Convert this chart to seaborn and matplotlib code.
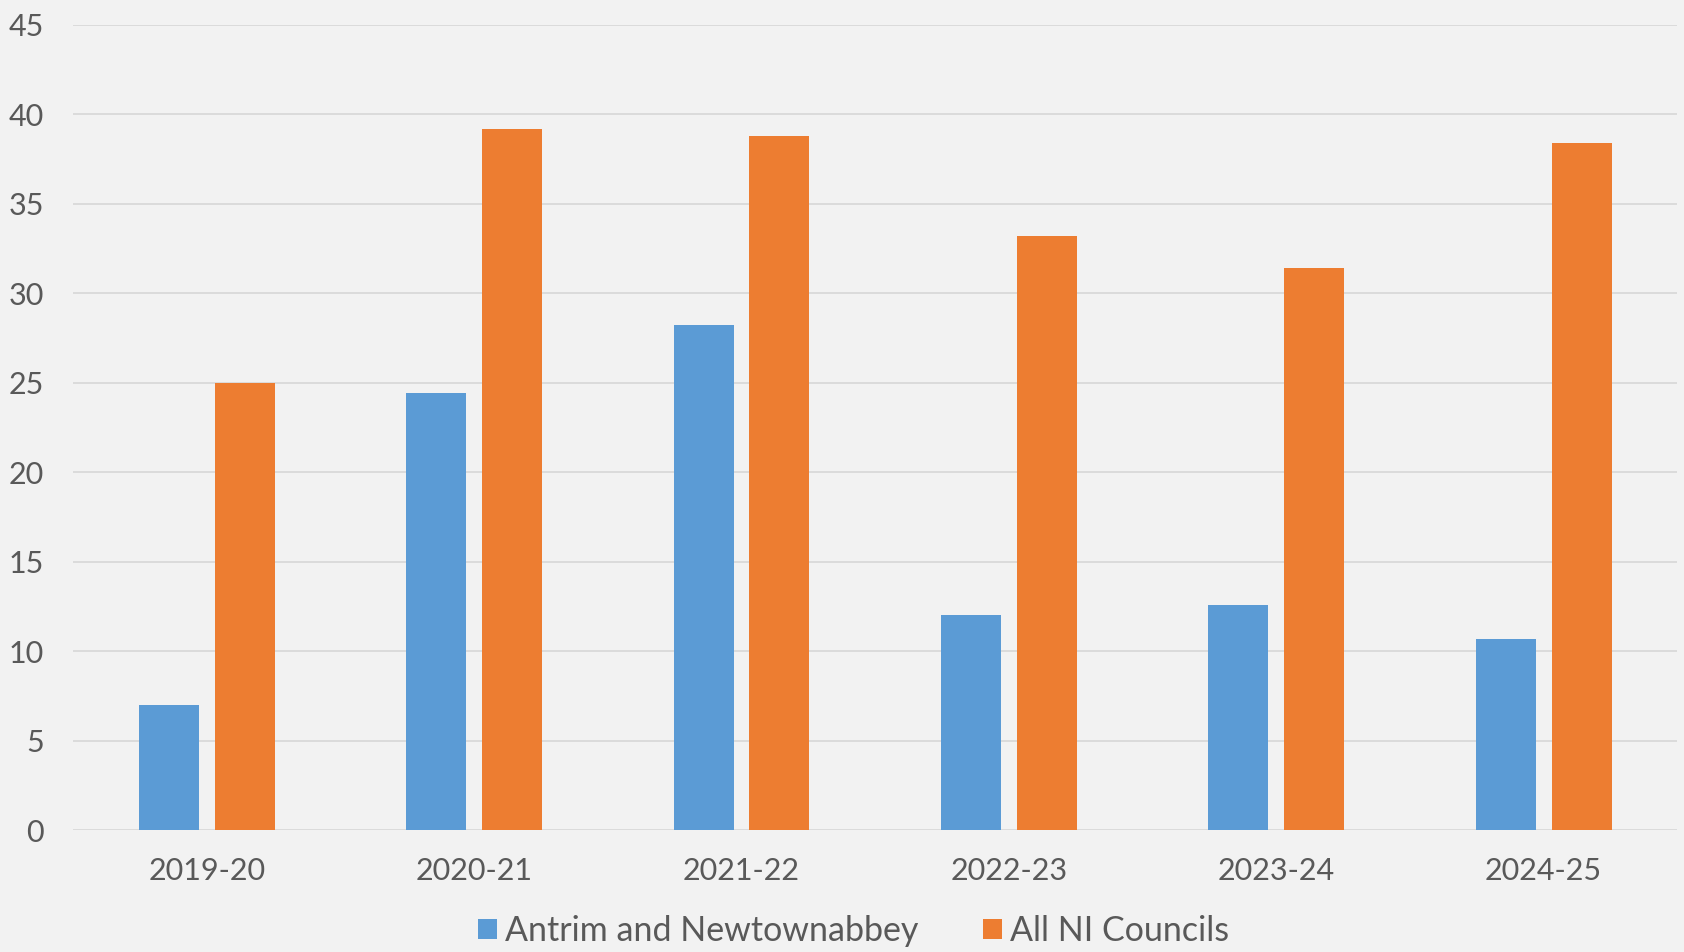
import pandas as pd
import matplotlib.pyplot as plt
import seaborn as sns

years = ['2019-20', '2020-21', '2021-22', '2022-23', '2023-24', '2024-25']
antrim = [7.0, 24.4, 28.2, 12.0, 12.6, 10.7]
all_ni = [25.0, 39.2, 38.8, 33.2, 31.4, 38.4]
series = ['Antrim and Newtownabbey', 'All NI Councils']

df = pd.DataFrame({
    'year': years * 2,
    'value': antrim + all_ni,
    'series': [series[0]] * len(years) + [series[1]] * len(years),
})

sns.set_style('white')
plt.rcParams['font.family'] = ['Lato', 'DejaVu Sans']
text_col = '#595959'

fig = plt.figure(figsize=(16.84, 9.52), dpi=100, facecolor='#F2F2F2')
ax = fig.add_axes([0.0434, 0.128, 0.9526, 0.846])
ax.set_facecolor('#F2F2F2')

sns.barplot(data=df, x='year', y='value', hue='series',
            palette=['#5B9BD5', '#ED7D31'], width=0.568, gap=0.21,
            saturation=1, linewidth=0, ax=ax, legend=True)

ax.set_ylim(0, 45)
ax.set_yticks(range(0, 46, 5))
ax.set_xlim(-0.5, 5.5)
ax.grid(axis='y', color='#D9D9D9', linewidth=1.3)
ax.set_axisbelow(True)
for s in ax.spines.values():
    s.set_visible(False)
ax.tick_params(axis='y', length=0, pad=21, labelsize=22, labelcolor=text_col)
ax.tick_params(axis='x', length=0, pad=19, labelsize=22, labelcolor=text_col)
ax.set_xlabel('')
ax.set_ylabel('')

handles, labels = ax.get_legend_handles_labels()
ax.get_legend().remove()
fig.legend(handles, labels, loc='center', bbox_to_anchor=(0.507, 0.022),
           ncol=2, frameon=False, fontsize=24.5, labelcolor=text_col,
           handlelength=0.55, handleheight=0.55, handletextpad=0.25,
           columnspacing=1.9)

plt.savefig('out.png', dpi=100, facecolor=fig.get_facecolor())
